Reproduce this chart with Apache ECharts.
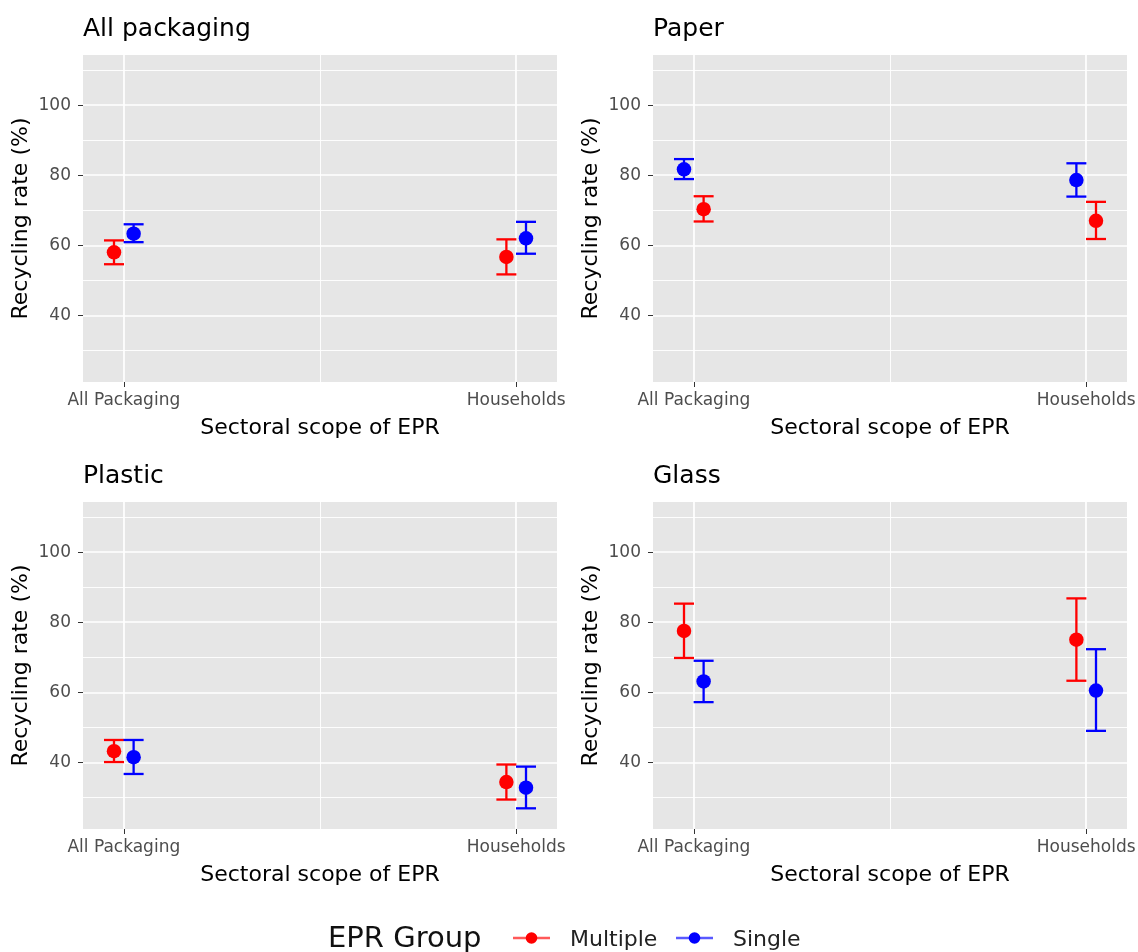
<!DOCTYPE html>
<html><head><meta charset="utf-8">
<script src="https://cdn.jsdelivr.net/npm/echarts@6/dist/echarts.min.js"></script>
<style>html,body{margin:0;padding:0;background:#fff}#c{width:1138px;height:952px}</style>
</head><body><div id="c"></div>
<script>
const panelTitles = ['All packaging', 'Paper', 'Plastic', 'Glass'];
const categories = ['All Packaging', 'Households'];
const groups = ['Multiple', 'Single'];
const yTicks = [40, 60, 80, 100];
const yMinorTicks = [30, 50, 70, 90, 110];
const xTicks = [1, 2];
const xMinorTicks = [1.5];
// values per panel, in order [All Packaging, Households]
const multipleMean = [[58.0, 56.7], [70.3, 67.0], [43.2, 34.4], [77.5, 75.0]];
const multipleLow  = [[54.6, 51.7], [66.8, 61.8], [40.1, 29.4], [69.8, 63.3]];
const multipleHigh = [[61.4, 61.7], [74.0, 72.4], [46.4, 39.4], [85.3, 86.8]];
const singleMean   = [[63.3, 62.0], [81.7, 78.6], [41.5, 32.8], [63.1, 60.5]];
const singleLow    = [[60.9, 57.6], [78.9, 73.9], [36.7, 26.9], [57.2, 49.0]];
const singleHigh   = [[66.0, 66.7], [84.6, 83.4], [46.4, 38.8], [69.0, 72.3]];
// which group is dodged to the left in each panel
const leftGroup = ['Multiple', 'Single', 'Multiple', 'Multiple'];

const FONT = 'DejaVu Sans';
const colors = { Multiple: '#FF0000', Single: '#0000FF' };
const dodge = 0.025;
const gridPos = [
  { left: 83, top: 55 }, { left: 653, top: 55 },
  { left: 83, top: 502 }, { left: 653, top: 502 }
];
const PW = 474, PH = 327;

function errRender(color) {
  return function (params, api) {
    const x = api.value(0), lo = api.value(2), hi = api.value(3);
    const a = api.coord([x, hi]), b = api.coord([x, lo]);
    const hw = 10;
    const st = { stroke: color, lineWidth: 2.3, fill: null };
    return { type: 'group', children: [
      { type: 'line', shape: { x1: a[0], y1: a[1], x2: b[0], y2: b[1] }, style: st },
      { type: 'line', shape: { x1: a[0] - hw, y1: a[1], x2: a[0] + hw, y2: a[1] }, style: st },
      { type: 'line', shape: { x1: b[0] - hw, y1: b[1], x2: b[0] + hw, y2: b[1] }, style: st }
    ]};
  };
}

const grid = [], xAxis = [], yAxis = [], series = [], graphic = [];
panelTitles.forEach((t, p) => {
  grid.push({ left: gridPos[p].left, top: gridPos[p].top, width: PW, height: PH,
    show: true, backgroundColor: '#E6E6E6', borderWidth: 0, containLabel: false, outerBoundsMode: 'none' });
  xAxis.push({ gridIndex: p, type: 'value', min: 0.896, max: 2.104,
    axisLine: { show: false }, splitLine: { show: false },
    axisTick: { show: true, customValues: xTicks, length: 5, lineStyle: { color: '#333333', width: 1 } },
    axisLabel: { customValues: xTicks, formatter: v => categories[Math.round(v) - 1] || '',
      color: '#4D4D4D', fontSize: 17, fontFamily: FONT, margin: 10 },
    name: 'Sectoral scope of EPR', nameLocation: 'middle', nameGap: 35,
    nameTextStyle: { color: '#000', fontSize: 22, fontFamily: FONT } });
  yAxis.push({ gridIndex: p, type: 'value', min: 21, max: 114.3,
    axisLine: { show: false }, splitLine: { show: false },
    axisTick: { show: true, customValues: yTicks, length: 5, lineStyle: { color: '#333333', width: 1 } },
    axisLabel: { customValues: yTicks, color: '#4D4D4D', fontSize: 17, fontFamily: FONT, margin: 12 },
    name: 'Recycling rate (%)', nameLocation: 'middle', nameGap: 51,
    nameTextStyle: { color: '#000', fontSize: 22, fontFamily: FONT } });
  const ml = [];
  yMinorTicks.forEach(v => ml.push({ yAxis: v, lineStyle: { width: 0.9 } }));
  xMinorTicks.forEach(v => ml.push({ xAxis: v, lineStyle: { width: 0.9 } }));
  yTicks.forEach(v => ml.push({ yAxis: v, lineStyle: { width: 1.7 } }));
  xTicks.forEach(v => ml.push({ xAxis: v, lineStyle: { width: 1.7 } }));
  series.push({ type: 'scatter', xAxisIndex: p, yAxisIndex: p, data: [], z: 1, silent: true,
    markLine: { z: 1, silent: true, symbol: ['none', 'none'], label: { show: false }, animation: false,
      lineStyle: { color: '#FFFFFF', type: 'solid' }, data: ml } });
  groups.forEach(g => {
    const mean = g === 'Multiple' ? multipleMean : singleMean;
    const low = g === 'Multiple' ? multipleLow : singleLow;
    const high = g === 'Multiple' ? multipleHigh : singleHigh;
    const off = leftGroup[p] === g ? -dodge : dodge;
    const data = categories.map((c, i) => [i + 1 + off, mean[p][i], low[p][i], high[p][i]]);
    series.push({ type: 'custom', name: g, xAxisIndex: p, yAxisIndex: p, z: 10,
      renderItem: errRender(colors[g]), encode: { x: 0, y: [2, 3] }, data: data, animation: false });
    series.push({ type: 'scatter', name: g, xAxisIndex: p, yAxisIndex: p, z: 11,
      symbol: 'circle', symbolSize: 14.5, itemStyle: { color: colors[g], opacity: 1 },
      data: data.map(d => [d[0], d[1]]), animation: false });
  });
  graphic.push({ type: 'text', left: gridPos[p].left, top: gridPos[p].top - 38,
    style: { text: t, font: '25px "' + FONT + '"', fill: '#000' } });
});

// legend
const ly = 939;
graphic.push({ type: 'text', x: 328, y: ly, style: { text: 'EPR Group', font: '29px "' + FONT + '"', fill: '#111', verticalAlign: 'middle' } });
const legendItems = [
  { g: 'Multiple', lx: 513, tx: 570 },
  { g: 'Single', lx: 676, tx: 733 }
];
legendItems.forEach(it => {
  graphic.push({ type: 'line', shape: { x1: it.lx, y1: ly - 1, x2: it.lx + 37, y2: ly - 1 }, style: { stroke: colors[it.g], lineWidth: 2.5, opacity: 0.65 } });
  graphic.push({ type: 'circle', shape: { cx: it.lx + 18.5, cy: ly - 1, r: 5.8 }, style: { fill: colors[it.g] } });
  graphic.push({ type: 'text', x: it.tx, y: ly + 1, style: { text: it.g, font: '22px "' + FONT + '"', fill: '#222', verticalAlign: 'middle' } });
});

const chart = echarts.init(document.getElementById('c'), null, { renderer: 'canvas' });
chart.setOption({ animation: false, backgroundColor: '#FFFFFF', grid, xAxis, yAxis, series, graphic });
</script>
</body></html>
